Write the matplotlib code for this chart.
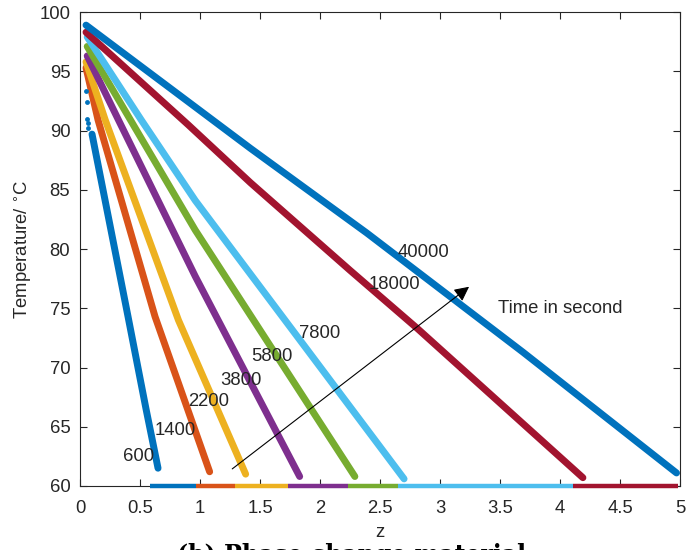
import numpy as np
import matplotlib.pyplot as plt

plt.rcParams['font.family'] = ['Liberation Sans', 'DejaVu Sans']

# time labels (s) and colours (MATLAB default order)
times = ["600", "1400", "2200", "3800", "5800", "7800", "18000", "40000"]
colors = ["#0072BD", "#D95319", "#EDB120", "#7E2F8E", "#77AC30", "#4DBEEE", "#A2142F", "#0072BD"]

# points
z_600 = [0.10, 0.25, 0.40, 0.55, 0.65]
T_600 = [89.7, 82.0, 74.3, 66.5, 61.5]
z_1400 = [0.05, 0.15, 0.625, 1.08]
T_1400 = [95.3, 90.9, 74.3, 61.2]
z_2200 = [0.05, 0.21, 0.82, 1.38]
T_2200 = [95.8, 90.9, 74.0, 61.0]
z_3800 = [0.06, 0.32, 0.96, 1.83]
T_3800 = [96.3, 90.9, 77.7, 60.8]
z_5800 = [0.06, 0.42, 0.96, 2.29]
T_5800 = [97.1, 90.9, 81.6, 60.8]
z_7800 = [0.06, 0.51, 0.96, 2.70]
T_7800 = [97.9, 90.9, 84.1, 60.6]
z_18000 = [0.05, 0.90, 1.42, 2.25, 2.81, 4.19]
T_18000 = [98.3, 90.5, 85.6, 78.2, 73.3, 60.7]
z_40000 = [0.05, 1.42, 2.39, 3.69, 4.97]
T_40000 = [98.9, 88.5, 81.35, 71.3, 61.1]

# loose points of the 600 s profile near the hot end
z_600_dots = [0.05, 0.06, 0.055, 0.07, 0.065]
T_600_dots = [93.3, 92.4, 91.0, 90.6, 90.2]

zs = [z_600, z_1400, z_2200, z_3800, z_5800, z_7800, z_18000, z_40000]
Ts = [T_600, T_1400, T_2200, T_3800, T_5800, T_7800, T_18000, T_40000]

# solid/bottom segments along T = 60
seg_start = [0.58, 0.97, 1.29, 1.73, 2.23, 2.65, 4.11]
seg_end = [0.97, 1.29, 1.73, 2.23, 2.65, 4.11, 4.98]
seg_colors = ["#0072BD", "#D95319", "#EDB120", "#7E2F8E", "#77AC30", "#4DBEEE", "#A2142F"]

# label positions (z, T)
lab_z = [0.49, 0.79, 1.07, 1.34, 1.60, 2.00, 2.62, 2.86]
lab_T = [62.5, 64.7, 67.1, 68.9, 70.9, 72.9, 77.0, 79.7]

fs = 13.3
fig = plt.figure(figsize=(6.94, 5.5), dpi=100)
ax = fig.add_axes([0.1153, 0.1164, 0.8647, 0.8616])

for z, T, c in zip(zs, Ts, colors):
    ax.plot(z, T, color=c, lw=5, solid_capstyle='round', solid_joinstyle='round')
ax.plot(z_600_dots, T_600_dots, 'o', color=colors[0], ms=3.5, mew=0)

for a, b, c in zip(seg_start, seg_end, seg_colors):
    ax.plot([a, b], [60, 60], color=c, lw=3.2, solid_capstyle='butt', clip_on=False, zorder=3)

for t, x, y in zip(times, lab_z, lab_T):
    ax.text(x, y, t, ha='center', va='center', fontsize=fs, color='#262626', zorder=5)

ax.annotate("", xy=(3.26, 76.96), xytext=(1.25, 61.3),
            arrowprops=dict(arrowstyle='-|>', color='black', lw=0.8, mutation_scale=22))
ax.text(3.48, 75.0, "Time in second", ha='left', va='center', fontsize=fs, color='#262626')

ax.set_xlim(0, 5)
ax.set_ylim(60, 100)
ax.set_xticks(np.arange(0, 5.01, 0.5))
ax.set_xticklabels(["0", "0.5", "1", "1.5", "2", "2.5", "3", "3.5", "4", "4.5", "5"])
ax.set_yticks(np.arange(60, 101, 5))
ax.tick_params(direction='in', top=True, right=True, length=5, width=0.8,
               labelsize=fs, colors='#262626')
ax.tick_params(axis='x', pad=10)
ax.tick_params(axis='y', pad=7)
for s in ax.spines.values():
    s.set_color('#262626')
    s.set_linewidth(0.8)

ax.set_xlabel("z", fontsize=fs, color='#262626', labelpad=5)
ax.set_ylabel("Temperature/ $^{\\circ}$C", fontsize=fs, color='#262626', labelpad=4)

# caption, cut off by the bottom edge as in the source
fig.text(0.507, 1 - 543 / 550, "(b) Phase change material", ha='center', va='top',
         fontsize=17, fontweight='bold', family='DejaVu Serif')

fig.savefig("out.png", dpi=100)
